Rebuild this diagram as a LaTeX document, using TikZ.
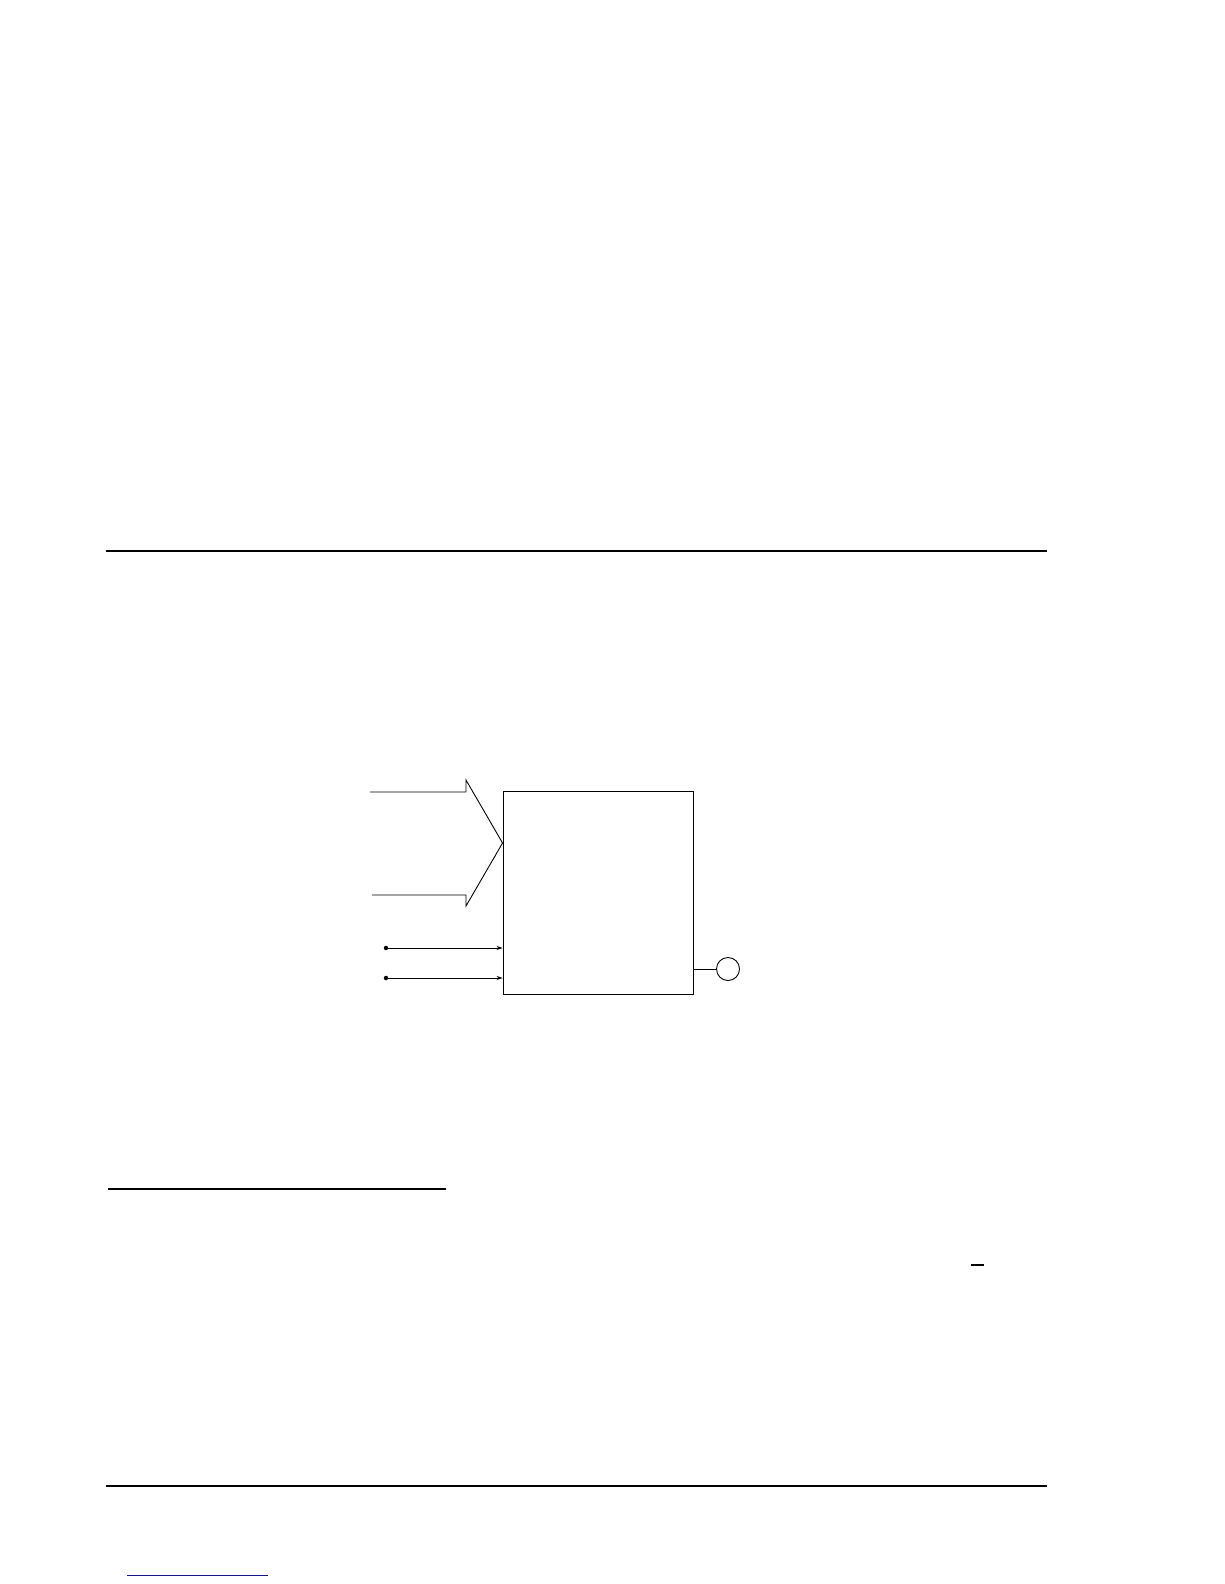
\documentclass[tikz,border=0pt]{standalone}
\usetikzlibrary{arrows.meta}
\begin{document}
\begin{tikzpicture}[x=1pt,y=-1pt,
  rule/.style={line width=1.6pt,black},
  thin/.style={line width=0.9pt,black},
  blockbox/.style={draw,thin,rectangle,minimum width=190pt,minimum height=203pt,inner sep=0pt},
  outcircle/.style={draw,thin,circle,minimum size=23pt,inner sep=0pt},
  sigarrow/.style={thin,-{Stealth[length=6pt,width=4pt]}},
  dotmark/.style={fill=black,circle,inner sep=0pt,minimum size=4.5pt}
]
\useasboundingbox (0,0) rectangle (1224,1584);
\fill[white] (0,0) rectangle (1224,1584);

% horizontal page rules
\coordinate (r1a) at (106,551); \coordinate (r1b) at (1047,551);
\draw[rule] (r1a) -- (r1b);
\coordinate (r2a) at (108,1189); \coordinate (r2b) at (446,1189);
\draw[line width=1.3pt] (r2a) -- (r2b);
\coordinate (r3a) at (106,1486); \coordinate (r3b) at (1047,1486);
\draw[line width=1.3pt] (r3a) -- (r3b);
\coordinate (dsa) at (971,1265); \coordinate (dsb) at (984,1265);
\draw[line width=2pt] (dsa) -- (dsb);
\coordinate (bla) at (127,1575); \coordinate (blb) at (268,1575);
\draw[line width=1pt,color={rgb,255:red,20;green,20;blue,140}] (bla) -- (blb);

% block
\node[blockbox] (blk) at (598,892.5) {};
\node[outcircle] (oc) at (728,969) {};
\coordinate (op) at (blk.east |- oc.west);
\draw[thin] (op) -- (oc.west);

% wide bus arrow
\coordinate (tip) at (blk.west |- 0,843);
\draw[thin,line join=miter] (370,792) -- (466,792) -- (466,780) -- (tip)
  -- (466,906) -- (466,895) -- (372,895);

% single-line inputs
\node[dotmark] (d1) at (386,948) {};
\node[dotmark] (d2) at (386,978) {};
\draw[sigarrow] (d1.center) -- (d1.center -| blk.west);
\draw[sigarrow] (d2.center) -- (d2.center -| blk.west);
\end{tikzpicture}
\end{document}
